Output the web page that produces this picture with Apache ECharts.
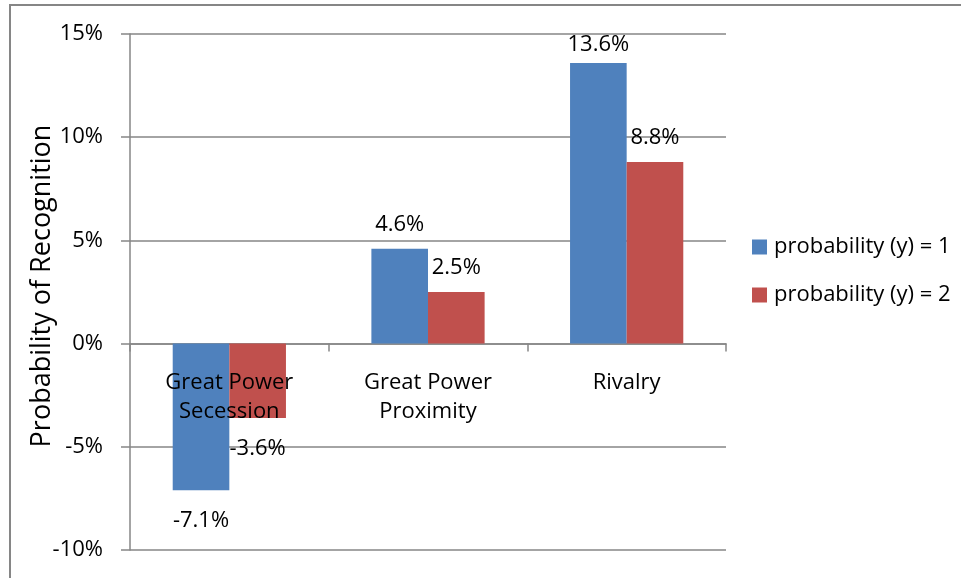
<!DOCTYPE html>
<html>
<head>
<meta charset="utf-8">
<script src="https://cdn.jsdelivr.net/npm/echarts@6/dist/echarts.min.js"></script>
<style>
  html, body { margin: 0; padding: 0; background: #fff; }
  #chart { width: 961px; height: 578px; }
</style>
</head>
<body>
<div id="chart"></div>
<script>
// Effect of each factor on the probability of recognition (percentage points)
const categories = ['Great Power\nSecession', 'Great Power\nProximity', 'Rivalry'];
const seriesNames = ['probability (y) = 1', 'probability (y) = 2'];
const valuesY1 = [-7.1, 4.6, 13.6];
const valuesY2 = [-3.6, 2.5, 8.8];
const yTicks = { min: -10, max: 15, step: 5 };

const FONT = 'Open Sans';
const FONT_SIZE = 22;
const GRID_GRAY = '#868686';
const GRID = { left: 130, top: 34, width: 596, height: 516 };
const PX_PER_UNIT = GRID.height / (yTicks.max - yTicks.min);

// Labels sit above positive bars and below negative ones; a label that would
// run past the top of the plot is pulled down to stay inside it.
function toItems(values) {
  return values.map(v => {
    let distance = v < 0 ? 20 : 13;
    if (v >= 0) {
      const room = (yTicks.max - v) * PX_PER_UNIT - FONT_SIZE;
      distance = Math.min(distance, Math.max(0, room));
    }
    return { value: v, label: { position: v < 0 ? 'bottom' : 'top', distance: distance } };
  });
}

function barSeries(name, values, color) {
  return {
    name: name,
    type: 'bar',
    xAxisIndex: 0,
    data: toItems(values),
    barGap: '0%',
    barCategoryGap: '43%',
    itemStyle: { color: color },
    label: {
      show: true,
      color: '#000',
      fontFamily: FONT,
      fontSize: FONT_SIZE,
      formatter: p => p.value.toFixed(1) + '%'
    }
  };
}

// Category names hang just under the zero line, inside the plot, over the bars
const zeroOffset = (yTicks.max - 0) * PX_PER_UNIT;
const categoryLabelMargin = zeroOffset + 25;

const chart = echarts.init(document.getElementById('chart'));
chart.setOption({
  animation: false,
  backgroundColor: '#fff',
  graphic: [{
    type: 'rect',
    shape: { x: 10, y: 5, width: 1000, height: 700 },
    style: { fill: 'none', stroke: GRID_GRAY, lineWidth: 2 },
    silent: true
  }],
  grid: Object.assign({ containLabel: false, outerBoundsMode: 'none' }, GRID),
  legend: {
    orient: 'vertical',
    left: 747,
    top: 231,
    itemWidth: 15,
    itemHeight: 15,
    itemGap: 26,
    icon: 'rect',
    textStyle: { fontFamily: FONT, fontSize: FONT_SIZE, color: '#000', padding: [0, 0, 0, 2] },
    data: seriesNames
  },
  xAxis: [{
    type: 'category',
    data: categories,
    axisLine: { onZero: true, lineStyle: { color: GRID_GRAY, width: 1.5 } },
    axisTick: { show: true, alignWithLabel: false, length: 8, lineStyle: { color: GRID_GRAY, width: 1.5 } },
    axisLabel: { show: false },
    splitLine: { show: false }
  }, {
    type: 'category',
    data: categories,
    position: 'top',
    z: 10,
    axisLine: { show: false, onZero: false },
    axisTick: { show: false },
    splitLine: { show: false },
    axisLabel: {
      inside: true,
      margin: categoryLabelMargin,
      color: '#000',
      fontFamily: FONT,
      fontSize: FONT_SIZE,
      lineHeight: 29,
      interval: 0
    }
  }],
  yAxis: {
    type: 'value',
    min: yTicks.min,
    max: yTicks.max,
    interval: yTicks.step,
    name: 'Probability of Recognition',
    nameLocation: 'middle',
    nameGap: 74,
    nameMoveOverlap: false,
    nameTextStyle: { fontFamily: FONT, fontSize: 27, color: '#000', padding: [0, 0, 0, 12] },
    axisLine: { show: true, lineStyle: { color: GRID_GRAY, width: 1.5 } },
    axisTick: { show: true, length: 9, lineStyle: { color: GRID_GRAY, width: 1.5 } },
    axisLabel: {
      color: '#000',
      fontFamily: FONT,
      fontSize: FONT_SIZE,
      margin: 27,
      formatter: '{value}%'
    },
    splitLine: { show: true, lineStyle: { color: GRID_GRAY, width: 1.5 } }
  },
  series: [
    barSeries(seriesNames[0], valuesY1, '#4F81BD'),
    barSeries(seriesNames[1], valuesY2, '#C0504D')
  ]
});
</script>
</body>
</html>
